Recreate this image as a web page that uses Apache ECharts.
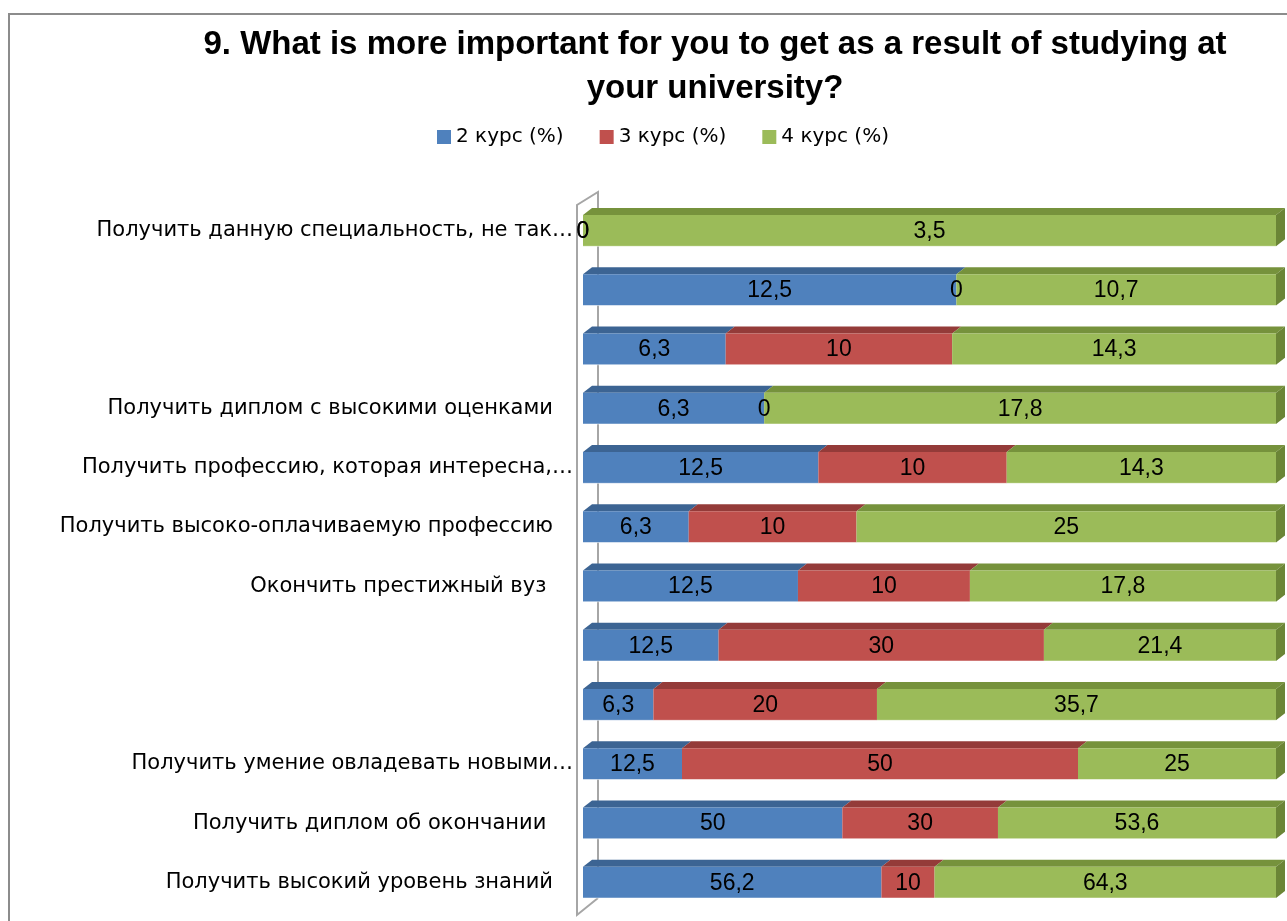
<!DOCTYPE html>
<html>
<head>
<meta charset="utf-8">
<script src="https://cdn.jsdelivr.net/npm/echarts@6/dist/echarts.min.js"></script>
<style>html,body{margin:0;padding:0;background:#fff;}#chart{width:1287px;height:921px;}</style>
</head>
<body>
<div id="chart"></div>
<script>
const categories = [
  'Получить данную специальность, не так…',
  '',
  '',
  'Получить диплом с высокими оценками   ',
  'Получить профессию, которая интересна,…',
  'Получить высоко-оплачиваемую профессию   ',
  'Окончить престижный вуз    ',
  '',
  '',
  'Получить умение овладевать новыми…',
  'Получить диплом об окончании    ',
  'Получить высокий уровень знаний   '
];
const seriesNames = ['2 курс (%)', '3 курс (%)', '4 курс (%)'];
const course2 = [0, 12.5, 6.3, 6.3, 12.5, 6.3, 12.5, 12.5, 6.3, 12.5, 50, 56.2];
const course3 = [0, 0, 10, 0, 10, 10, 10, 30, 20, 50, 30, 10];
const course4 = [3.5, 10.7, 14.3, 17.8, 14.3, 25, 17.8, 21.4, 35.7, 25, 53.6, 64.3];
const titleText = '9. What is more important for you to get as a result of studying at\nyour university?';

const colors = ['#4F81BD', '#C0504D', '#9BBB59'];
const topColors = ['#3C6493', '#943B39', '#76923C'];
const sideColor = '#6B8536';
const FONT = '"DejaVu Sans", "Liberation Sans", Arial, sans-serif';
const TFONT = '"Liberation Sans", Arial, sans-serif';

const all = [course2, course3, course4];
const totals = categories.map((_, i) => course2[i] + course3[i] + course4[i]);
function buildData(k) {
  return categories.map((_, i) => {
    let s = 0;
    for (let j = 0; j < k; j++) s += all[j][i];
    const st = s / totals[i];
    const en = (s + all[k][i]) / totals[i];
    return [st, en, i, all[k][i]];
  });
}
function fmt(v) { return String(v).replace('.', ','); }

const DX = 9, DY = 7;
function makeRender(k) {
  return function (params, api) {
    const s = api.value(0), e = api.value(1), row = api.value(2), v = api.value(3);
    const p0 = api.coord([s, row]);
    const p1 = api.coord([e, row]);
    const band = api.size([0, 1])[1];
    const h = band * 0.53;
    const top = p0[1] - h / 2;
    const children = [];
    children.push({
      type: 'polygon',
      shape: { points: [[p0[0], top], [p0[0] + DX, top - DY], [p1[0] + DX, top - DY], [p1[0], top]] },
      style: { fill: topColors[k] }, z2: 1
    });
    children.push({
      type: 'rect',
      shape: { x: p0[0], y: top, width: p1[0] - p0[0], height: h },
      style: { fill: colors[k] }, z2: 1
    });
    children.push({
      type: 'line',
      shape: { x1: p0[0], y1: top + h, x2: p1[0], y2: top + h },
      style: { stroke: 'rgba(255,255,255,0.55)', lineWidth: 1 }, z2: 2
    });
    if (k === 2) {
      children.push({
        type: 'polygon',
        shape: { points: [[p1[0], top], [p1[0] + DX, top - DY], [p1[0] + DX, top - DY + h], [p1[0], top + h]] },
        style: { fill: sideColor }, z2: 1
      });
    }
    children.push({
      type: 'text',
      style: {
        text: fmt(v), x: (p0[0] + p1[0]) / 2, y: p0[1] + 1,
        align: 'center', verticalAlign: 'middle',
        fill: '#000', font: '23px ' + TFONT
      },
      z2: 100
    });
    return { type: 'group', children };
  };
}

function renderWall(params, api) {
  const band = api.size([0, 1])[1];
  const x = api.coord([0, 0])[0];
  const yTop = api.coord([0, 0])[1] - band / 2;
  const yBot = api.coord([0, categories.length - 1])[1] + band / 2;
  const fx = x - 6, bx = x + 15;
  const fTop = yTop + 4, fBot = yBot + 3;
  const bTop = fTop - 13, bBot = fBot - 17;
  const st = { stroke: '#A6A6A6', lineWidth: 2, fill: null };
  return {
    type: 'group',
    children: [
      { type: 'polyline', shape: { points: [[bx, bBot], [bx, bTop], [fx, fTop], [fx, fBot], [bx, bBot]] }, style: st }
    ]
  };
}

const chart = echarts.init(document.getElementById('chart'));
const series = [{
  type: 'custom', name: '_wall', renderItem: renderWall, data: [[0, 0]],
  encode: { x: 0, y: 1 }, silent: true, z: 1
}];
for (let k = 0; k < 3; k++) {
  series.push({
    type: 'custom', name: seriesNames[k], renderItem: makeRender(k),
    data: buildData(k), encode: { x: [0, 1], y: 2 }, itemStyle: { color: colors[k] }, z: 2
  });
}

chart.setOption({
  animation: false,
  backgroundColor: '#fff',
  graphic: [{
    type: 'rect', shape: { x: 9, y: 14, width: 1400, height: 1000 },
    style: { fill: null, stroke: '#8C8C8C', lineWidth: 2 }, silent: true, z: -1
  }],
  title: {
    text: titleText, left: 710, top: 18, textAlign: 'center',
    textStyle: { fontFamily: TFONT, fontWeight: 'bold', fontSize: 33, lineHeight: 44, color: '#000' }
  },
  legend: {
    data: seriesNames, left: 432, top: 122, itemWidth: 14, itemHeight: 14, itemGap: 36,
    icon: 'rect',
    textStyle: { fontFamily: FONT, fontSize: 20, color: '#000' }
  },
  grid: { left: 583, right: 11, top: 201, bottom: 9 },
  xAxis: { type: 'value', min: 0, max: 1, show: false },
  yAxis: {
    type: 'category', data: categories, inverse: true,
    axisLine: { show: false }, axisTick: { show: false },
    axisLabel: { interval: 0, margin: 10, color: '#000', fontFamily: FONT, fontSize: 21 }
  },
  series
});
</script>
</body>
</html>
